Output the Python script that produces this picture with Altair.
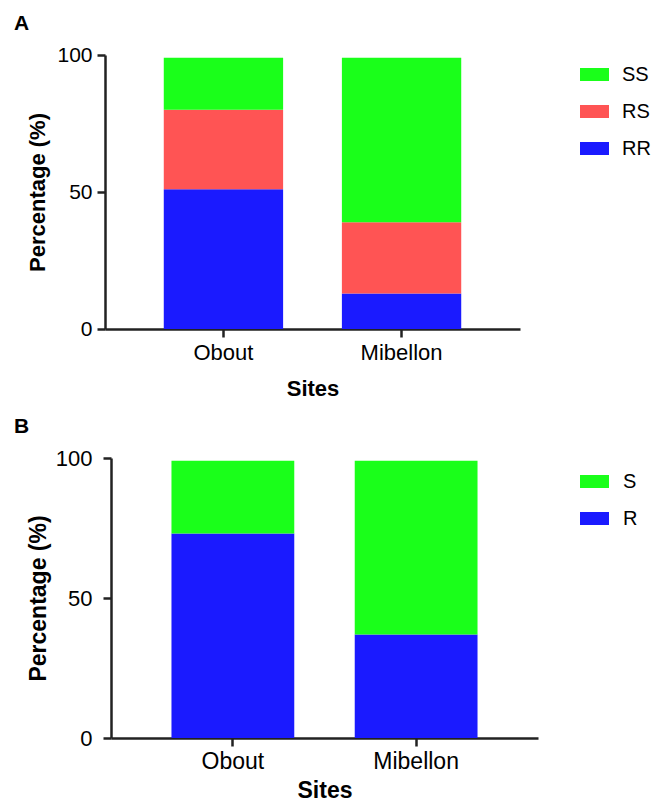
import altair as alt
import pandas as pd

sites = ["Obout", "Mibellon"]

# Panel A genotypes
geno = ["SS", "RS", "RR"]
geno_colors = ["#1AFF1A", "#FF5454", "#1A1AFF"]
rr = [51, 13]
rs = [29, 26]
ss = [19, 60]

# Panel B phenotypes
pheno = ["S", "R"]
pheno_colors = ["#1AFF1A", "#1A1AFF"]
r_vals = [73, 37]
s_vals = [26, 62]

FONT = "Liberation Sans"
RECT = "M-1,-0.45H1V0.45H-1Z"

dfa = pd.DataFrame(
    [{"site": s, "type": "RR", "val": v, "ord": 0} for s, v in zip(sites, rr)]
    + [{"site": s, "type": "RS", "val": v, "ord": 1} for s, v in zip(sites, rs)]
    + [{"site": s, "type": "SS", "val": v, "ord": 2} for s, v in zip(sites, ss)]
)
dfb = pd.DataFrame(
    [{"site": s, "type": "R", "val": v, "ord": 0} for s, v in zip(sites, r_vals)]
    + [{"site": s, "type": "S", "val": v, "ord": 1} for s, v in zip(sites, s_vals)]
)


def panel(df, domain, colors, letter, w, h, xlab, ylab, ttl, lx, ly, loff,
          xlp, xtp, ylp, ytp, shift):
    bars = alt.Chart(df).mark_bar(xOffset=shift).encode(
        x=alt.X("site:N", sort=sites, title="Sites",
                scale=alt.Scale(paddingInner=0.33, paddingOuter=0.33),
                axis=alt.Axis(labelAngle=0, labelFontSize=xlab, labelFont=FONT,
                              labelColor="black", titleFontSize=ttl, titleFont=FONT,
                              titleFontWeight="bold", titleColor="black",
                              tickSize=8, tickWidth=2.5, domainWidth=2.5,
                              domainColor="#222", tickColor="#222",
                              labelPadding=xlp, titlePadding=xtp, position=shift)),
        y=alt.Y("val:Q", stack="zero", title="Percentage (%)",
                scale=alt.Scale(domain=[0, 100], nice=False),
                axis=alt.Axis(values=[0, 50, 100], grid=False, labelFontSize=ylab,
                              labelFont=FONT, labelColor="black", titleFontSize=ttl,
                              titleFont=FONT, titleFontWeight="bold", titleColor="black",
                              tickSize=8, tickWidth=2.5, domainWidth=2.5,
                              domainColor="#222", tickColor="#222",
                              labelPadding=ylp, titlePadding=ytp, offset=-shift)),
        color=alt.Color("type:N", scale=alt.Scale(domain=domain, range=colors),
                        legend=alt.Legend(title=None, orient="none", legendX=lx, legendY=ly,
                                          symbolType=RECT, symbolSize=841,
                                          symbolStrokeWidth=0, symbolOpacity=1,
                                          labelFontSize=20, labelFont=FONT,
                                          labelColor="black", labelOffset=loff,
                                          rowPadding=12, padding=0)),
        order=alt.Order("ord:Q", sort="ascending"),
    )
    tag = alt.Chart(pd.DataFrame({"t": [letter]})).mark_text(
        font=FONT, fontSize=21, fontWeight="bold", color="black",
        align="left", baseline="top").encode(
        text="t:N", x=alt.value(-91), y=alt.value(-42))
    return alt.layer(bars, tag).properties(width=w, height=h)


a = panel(dfa, geno, geno_colors, "A", 415, 274, 22, 21, 22, 475, 5, 13,
          5, 15, 5, 7, 0)
b = panel(dfb, pheno, pheno_colors, "B", 427, 280, 23, 22, 23, 475, 9, 14,
          4, 6, 11, 5, 6)

chart = alt.concat(a, b, columns=1, spacing=17).resolve_scale(
    color="independent").configure_view(stroke=None).properties(
    padding={"left": 6, "top": 5, "right": 0, "bottom": 0})

chart.save("out.html", embed_options={"renderer": "svg", "actions": False})
